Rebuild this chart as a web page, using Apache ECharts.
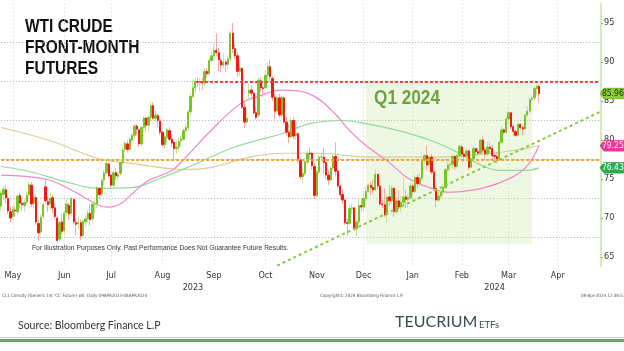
<!DOCTYPE html>
<html>
<head>
<meta charset="utf-8">
<script src="https://cdn.jsdelivr.net/npm/echarts@6/dist/echarts.min.js"></script>
<style>
html, body { margin: 0; padding: 0; background: #fff; }
#chart { width: 624px; height: 351px; }
</style>
</head>
<body>
<div id="chart"></div>
<script>
// daily candles: date, open, close, low, high
const candles = [
  ['2023-05-08', 71.5, 73.2, 71.0, 73.5], ['2023-05-09', 73.0, 73.7, 72.3, 74.0], ['2023-05-10', 73.6, 72.6, 71.9, 74.2],
  ['2023-05-11', 72.5, 70.9, 70.5, 72.9], ['2023-05-12', 70.8, 70.0, 69.4, 71.4], ['2023-05-15', 70.2, 71.1, 69.7, 71.6],
  ['2023-05-16', 71.0, 70.9, 70.2, 71.6], ['2023-05-17', 70.8, 72.8, 70.4, 73.0], ['2023-05-18', 72.9, 71.9, 71.2, 73.3],
  ['2023-05-19', 71.9, 71.7, 70.9, 72.6], ['2023-05-22', 71.6, 72.0, 70.8, 72.5], ['2023-05-23', 72.0, 72.9, 71.7, 73.4],
  ['2023-05-24', 73.0, 74.3, 72.7, 74.7], ['2023-05-25', 74.2, 71.8, 71.4, 74.6], ['2023-05-26', 71.9, 72.7, 71.3, 73.1],
  ['2023-05-30', 72.6, 69.5, 69.1, 73.0], ['2023-05-31', 69.3, 68.1, 67.0, 69.7],
  ['2023-06-01', 68.2, 70.1, 67.9, 70.4], ['2023-06-02', 70.2, 71.7, 69.9, 72.0], ['2023-06-05', 74.0, 72.2, 71.8, 75.1],
  ['2023-06-06', 72.1, 71.7, 70.8, 72.7], ['2023-06-07', 71.8, 72.5, 71.0, 73.3], ['2023-06-08', 72.6, 71.3, 70.6, 73.0],
  ['2023-06-09', 71.3, 70.2, 69.9, 71.9], ['2023-06-12', 70.0, 67.1, 66.8, 70.3], ['2023-06-13', 67.3, 69.4, 67.1, 69.7],
  ['2023-06-14', 69.5, 68.3, 67.9, 70.5], ['2023-06-15', 68.4, 70.6, 67.9, 71.0], ['2023-06-16', 70.7, 71.8, 70.2, 72.4],
  ['2023-06-20', 71.6, 70.5, 69.7, 72.0], ['2023-06-21', 70.6, 72.5, 70.2, 72.7], ['2023-06-22', 72.4, 69.5, 69.2, 72.6],
  ['2023-06-23', 69.4, 69.2, 67.8, 70.0], ['2023-06-26', 69.3, 69.4, 68.6, 70.2], ['2023-06-27', 69.4, 67.7, 67.2, 69.8],
  ['2023-06-28', 67.8, 69.6, 67.6, 69.8], ['2023-06-29', 69.5, 69.9, 68.8, 70.4], ['2023-06-30', 69.9, 70.6, 69.4, 71.0],
  ['2023-07-03', 70.6, 69.8, 69.0, 71.8], ['2023-07-05', 69.9, 71.8, 69.6, 72.0], ['2023-07-06', 71.8, 71.8, 70.6, 72.3],
  ['2023-07-07', 71.8, 73.9, 71.3, 74.0], ['2023-07-10', 73.8, 73.0, 72.4, 74.0], ['2023-07-11', 73.1, 74.8, 72.8, 75.2],
  ['2023-07-12', 74.9, 75.8, 74.2, 76.2], ['2023-07-13', 75.8, 77.0, 75.6, 77.3], ['2023-07-14', 76.9, 75.4, 75.2, 77.1],
  ['2023-07-17', 75.5, 74.2, 73.9, 75.7], ['2023-07-18', 74.2, 75.8, 73.8, 76.0], ['2023-07-19', 75.8, 75.4, 74.9, 76.4],
  ['2023-07-20', 75.3, 75.6, 74.8, 76.0], ['2023-07-21', 75.7, 77.1, 75.4, 77.4], ['2023-07-24', 77.1, 78.7, 76.8, 79.0],
  ['2023-07-25', 78.8, 79.6, 78.4, 79.9], ['2023-07-26', 79.5, 78.8, 78.4, 80.0], ['2023-07-27', 78.8, 80.1, 78.5, 80.4],
  ['2023-07-28', 80.0, 80.6, 79.6, 80.9], ['2023-07-31', 80.6, 81.8, 80.2, 82.0],
  ['2023-08-01', 81.8, 81.4, 80.6, 82.0], ['2023-08-02', 81.3, 79.5, 79.1, 81.4], ['2023-08-03', 79.5, 81.6, 79.3, 81.8],
  ['2023-08-04', 81.6, 82.8, 81.5, 83.0], ['2023-08-07', 82.8, 81.9, 81.2, 83.0], ['2023-08-08', 81.9, 82.9, 81.0, 83.1],
  ['2023-08-09', 82.9, 84.4, 82.3, 84.9], ['2023-08-10', 84.4, 82.8, 82.6, 84.8], ['2023-08-11', 82.8, 83.2, 82.3, 83.7],
  ['2023-08-14', 83.1, 82.5, 81.6, 83.4], ['2023-08-15', 82.4, 81.0, 80.6, 82.6], ['2023-08-16', 81.0, 79.4, 79.2, 81.2],
  ['2023-08-17', 79.4, 80.4, 79.0, 80.8], ['2023-08-18', 80.3, 81.3, 79.6, 81.6], ['2023-08-21', 81.2, 80.1, 79.8, 81.6],
  ['2023-08-22', 80.1, 79.6, 79.1, 80.8], ['2023-08-23', 79.7, 78.9, 77.6, 79.9], ['2023-08-24', 78.9, 79.1, 78.2, 79.9],
  ['2023-08-25', 79.1, 79.8, 78.5, 80.3], ['2023-08-28', 79.9, 80.1, 79.2, 80.5], ['2023-08-29', 80.1, 81.2, 79.9, 81.5],
  ['2023-08-30', 81.2, 81.6, 81.0, 82.1], ['2023-08-31', 81.6, 83.6, 81.2, 83.9],
  ['2023-09-01', 83.6, 85.6, 83.2, 86.0], ['2023-09-05', 85.6, 86.7, 85.4, 87.8], ['2023-09-06', 86.7, 87.5, 86.0, 88.0],
  ['2023-09-07', 87.5, 87.4, 86.8, 88.0], ['2023-09-08', 87.4, 87.5, 86.3, 87.9], ['2023-09-11', 87.5, 87.3, 86.4, 88.0],
  ['2023-09-12', 87.3, 88.8, 86.9, 89.2], ['2023-09-13', 88.8, 88.5, 88.0, 89.2], ['2023-09-14', 88.5, 90.2, 88.3, 90.5],
  ['2023-09-15', 90.2, 90.8, 89.9, 91.3], ['2023-09-18', 90.8, 91.5, 90.2, 92.4], ['2023-09-19', 91.5, 91.2, 90.7, 93.7],
  ['2023-09-20', 91.2, 90.3, 88.8, 91.8], ['2023-09-21', 90.2, 89.6, 88.7, 90.5], ['2023-09-22', 89.6, 90.0, 89.2, 91.1],
  ['2023-09-25', 90.0, 89.7, 88.7, 90.3], ['2023-09-26', 89.7, 90.4, 89.0, 90.9], ['2023-09-27', 90.4, 93.7, 90.1, 94.0],
  ['2023-09-28', 93.7, 91.7, 91.1, 95.0], ['2023-09-29', 91.7, 90.8, 90.4, 92.3],
  ['2023-10-02', 90.8, 88.8, 88.1, 91.3], ['2023-10-03', 88.8, 89.2, 88.2, 89.8], ['2023-10-04', 89.2, 84.2, 84.0, 89.3],
  ['2023-10-05', 84.2, 82.3, 81.5, 84.9], ['2023-10-06', 82.3, 82.8, 82.0, 84.0], ['2023-10-09', 86.0, 86.4, 85.0, 87.2],
  ['2023-10-10', 86.4, 86.0, 85.2, 87.0], ['2023-10-11', 86.0, 83.5, 83.2, 86.1], ['2023-10-12', 83.5, 82.9, 82.6, 84.2],
  ['2023-10-13', 83.2, 87.7, 83.0, 88.0], ['2023-10-16', 87.6, 86.7, 86.2, 88.0], ['2023-10-17', 86.7, 86.6, 85.5, 87.0],
  ['2023-10-18', 86.7, 88.3, 86.5, 89.0], ['2023-10-19', 88.3, 89.4, 87.8, 90.0], ['2023-10-20', 89.4, 88.1, 87.6, 90.3],
  ['2023-10-23', 87.9, 85.5, 85.0, 88.2], ['2023-10-24', 85.5, 83.7, 82.6, 86.0], ['2023-10-25', 83.7, 85.4, 83.4, 85.8],
  ['2023-10-26', 85.4, 83.2, 82.9, 85.9], ['2023-10-27', 83.2, 85.5, 82.8, 85.7], ['2023-10-30', 85.4, 82.3, 82.0, 85.6],
  ['2023-10-31', 82.3, 81.0, 80.6, 83.0],
  ['2023-11-01', 81.0, 80.4, 79.6, 82.0], ['2023-11-02', 80.4, 82.5, 80.2, 82.9], ['2023-11-03', 82.5, 80.5, 80.1, 83.0],
  ['2023-11-06', 80.6, 80.8, 80.0, 81.9], ['2023-11-07', 80.8, 77.4, 77.0, 81.0], ['2023-11-08', 77.4, 75.3, 75.0, 77.8],
  ['2023-11-09', 75.3, 75.7, 74.6, 76.6], ['2023-11-10', 75.7, 77.2, 75.4, 77.6], ['2023-11-13', 77.2, 78.3, 76.9, 78.6],
  ['2023-11-14', 78.3, 78.2, 77.4, 79.0], ['2023-11-15', 78.3, 76.7, 76.2, 78.5], ['2023-11-16', 76.6, 72.9, 72.4, 77.0],
  ['2023-11-17', 72.9, 75.9, 72.7, 76.2], ['2023-11-20', 75.9, 77.8, 75.6, 78.0], ['2023-11-21', 77.8, 77.8, 77.2, 78.4],
  ['2023-11-22', 77.8, 77.1, 75.7, 79.0], ['2023-11-24', 77.1, 75.5, 75.0, 77.2], ['2023-11-27', 75.5, 74.9, 74.2, 76.2],
  ['2023-11-28', 74.9, 76.4, 74.6, 76.6], ['2023-11-29', 76.4, 77.9, 76.1, 78.3], ['2023-11-30', 77.9, 76.0, 75.3, 79.7],
  ['2023-12-01', 76.0, 74.1, 73.8, 76.2], ['2023-12-04', 74.1, 73.0, 72.6, 74.3], ['2023-12-05', 73.0, 72.3, 71.8, 73.7],
  ['2023-12-06', 72.3, 69.4, 69.1, 72.5], ['2023-12-07', 69.4, 69.3, 67.7, 69.9], ['2023-12-08', 69.3, 71.2, 69.1, 71.7],
  ['2023-12-11', 71.2, 71.3, 70.5, 71.9], ['2023-12-12', 71.3, 68.6, 68.3, 71.4], ['2023-12-13', 68.6, 69.5, 67.7, 69.8],
  ['2023-12-14', 69.5, 71.6, 69.2, 72.5], ['2023-12-15', 71.6, 71.4, 70.9, 72.5], ['2023-12-18', 71.4, 72.5, 70.9, 73.5],
  ['2023-12-19', 72.5, 73.4, 72.1, 74.0], ['2023-12-20', 73.4, 74.2, 73.2, 74.4], ['2023-12-21', 74.2, 73.9, 72.9, 74.6],
  ['2023-12-22', 73.9, 73.6, 73.2, 74.9], ['2023-12-26', 73.6, 75.6, 73.5, 76.2], ['2023-12-27', 75.6, 74.1, 73.6, 75.7],
  ['2023-12-28', 74.1, 71.8, 71.6, 74.2], ['2023-12-29', 71.8, 71.7, 71.3, 72.3],
  ['2024-01-02', 71.7, 70.4, 70.1, 73.8], ['2024-01-03', 70.4, 72.7, 69.3, 73.0], ['2024-01-04', 72.7, 72.2, 71.6, 74.2],
  ['2024-01-05', 72.2, 73.8, 71.8, 74.2], ['2024-01-08', 73.8, 70.8, 70.1, 74.0], ['2024-01-09', 70.8, 72.2, 70.6, 72.6],
  ['2024-01-10', 72.2, 71.4, 71.1, 73.5], ['2024-01-11', 71.4, 72.0, 70.7, 72.9], ['2024-01-12', 72.0, 72.7, 71.7, 75.2],
  ['2024-01-16', 72.7, 72.4, 71.3, 73.6], ['2024-01-17', 72.4, 72.6, 71.3, 73.0], ['2024-01-18', 72.6, 74.1, 72.4, 74.5],
  ['2024-01-19', 74.1, 73.4, 73.0, 74.5], ['2024-01-22', 73.4, 75.2, 73.2, 75.5], ['2024-01-23', 75.2, 74.4, 73.8, 75.6],
  ['2024-01-24', 74.4, 75.1, 74.0, 75.7], ['2024-01-25', 75.1, 77.4, 74.9, 77.5], ['2024-01-26', 77.4, 78.0, 76.9, 78.2],
  ['2024-01-29', 78.0, 76.8, 76.2, 79.3], ['2024-01-30', 76.8, 77.8, 76.5, 78.0], ['2024-01-31', 77.8, 75.9, 75.6, 78.2],
  ['2024-02-01', 75.9, 73.8, 73.5, 76.2], ['2024-02-02', 73.8, 72.3, 71.4, 74.1], ['2024-02-05', 72.3, 72.8, 72.0, 73.3],
  ['2024-02-06', 72.8, 73.3, 72.4, 73.6], ['2024-02-07', 73.3, 73.9, 72.9, 74.3], ['2024-02-08', 73.9, 76.2, 73.7, 76.4],
  ['2024-02-09', 76.2, 76.8, 75.8, 77.2], ['2024-02-12', 76.8, 76.9, 75.9, 77.4], ['2024-02-13', 76.9, 77.9, 76.3, 78.1],
  ['2024-02-14', 77.9, 76.6, 76.2, 78.0], ['2024-02-15', 76.6, 78.0, 76.3, 78.2], ['2024-02-16', 78.0, 79.2, 77.6, 79.4],
  ['2024-02-20', 79.1, 78.2, 77.7, 79.4], ['2024-02-21', 78.2, 77.9, 77.2, 78.5], ['2024-02-22', 77.9, 78.6, 77.5, 79.0],
  ['2024-02-23', 78.6, 76.5, 76.1, 78.8], ['2024-02-26', 76.5, 77.6, 76.3, 77.9], ['2024-02-27', 77.6, 78.9, 77.4, 79.2],
  ['2024-02-28', 78.9, 78.5, 78.0, 79.0], ['2024-02-29', 78.5, 78.3, 77.9, 79.0],
  ['2024-03-01', 78.3, 80.0, 78.2, 80.2], ['2024-03-04', 80.0, 78.7, 78.4, 80.6], ['2024-03-05', 78.7, 78.2, 77.6, 79.1],
  ['2024-03-06', 78.2, 79.1, 78.0, 79.7], ['2024-03-07', 79.1, 78.9, 78.2, 79.7], ['2024-03-08', 78.9, 78.0, 77.5, 79.4],
  ['2024-03-11', 78.0, 77.9, 77.2, 78.5], ['2024-03-12', 77.9, 77.6, 77.0, 78.5], ['2024-03-13', 77.6, 79.7, 77.4, 80.0],
  ['2024-03-14', 79.7, 81.3, 79.5, 81.7], ['2024-03-15', 81.3, 81.0, 80.7, 81.5], ['2024-03-18', 81.0, 82.7, 80.8, 83.0],
  ['2024-03-19', 82.7, 83.5, 82.2, 83.8], ['2024-03-20', 83.5, 81.7, 81.4, 83.6], ['2024-03-21', 81.7, 81.1, 80.6, 82.0],
  ['2024-03-22', 81.1, 80.6, 80.4, 81.4], ['2024-03-25', 80.6, 82.0, 80.4, 82.2], ['2024-03-26', 82.0, 81.6, 81.3, 82.2],
  ['2024-03-27', 81.6, 81.4, 80.6, 81.8], ['2024-03-28', 81.4, 83.2, 81.2, 83.3],
  ['2024-04-01', 83.2, 83.7, 82.9, 84.4], ['2024-04-02', 83.7, 85.2, 83.3, 85.5], ['2024-04-03', 85.2, 85.4, 84.7, 85.8],
  ['2024-04-04', 85.4, 86.6, 85.1, 87.0], ['2024-04-05', 86.6, 86.9, 85.8, 87.6], ['2024-04-08', 86.9, 85.96, 84.8, 87.1]
];

// empty trading days to the right of the last candle
const padDates = [
  '2024-04-09', '2024-04-10', '2024-04-11', '2024-04-12', '2024-04-15', '2024-04-16', '2024-04-17', '2024-04-18',
  '2024-04-19', '2024-04-22', '2024-04-23', '2024-04-24', '2024-04-25', '2024-04-26', '2024-04-29', '2024-04-30',
  '2024-05-01', '2024-05-02', '2024-05-03', '2024-05-06', '2024-05-07', '2024-05-08', '2024-05-09', '2024-05-10',
  '2024-05-13', '2024-05-14'
];

// month / year tick labels (Bloomberg puts them mid-month)
const monthTicks = {
  '2023-05-15': 'May', '2023-06-15': 'Jun', '2023-07-17': 'Jul', '2023-08-16': 'Aug',
  '2023-09-18': 'Sep', '2023-10-18': 'Oct', '2023-11-17': 'Nov', '2023-12-18': 'Dec',
  '2024-01-19': 'Jan', '2024-02-20': 'Feb', '2024-03-19': 'Mar', '2024-04-18': 'Apr'
};
const yearTicks = { '2023-09-05': '2023', '2024-03-11': '2024' };

const priceLabels = [65, 70, 75, 80, 85, 90, 95];
const gridLevels = [67.5, 72.5, 77.5, 82.5, 87.5, 92.5];

// moving averages
const ma50 = [
  ['2023-05-08', 75.5], ['2023-06-05', 75.0], ['2023-06-16', 73.9], ['2023-07-10', 71.6], ['2023-07-14', 71.4],
  ['2023-08-08', 74.8], ['2023-08-22', 76.1], ['2023-08-30', 77.8], ['2023-09-14', 81.0], ['2023-10-03', 84.6],
  ['2023-10-13', 85.6], ['2023-10-27', 86.4], ['2023-11-07', 86.3], ['2023-11-17', 85.4], ['2023-11-30', 83.3],
  ['2023-12-08', 81.2], ['2023-12-19', 79.3], ['2024-01-04', 77.1], ['2024-01-17', 75.1], ['2024-01-31', 73.8],
  ['2024-02-12', 73.3], ['2024-02-27', 73.6], ['2024-03-13', 74.5], ['2024-03-28', 76.4], ['2024-04-08', 79.25]
];
const ma100 = [
  ['2023-05-08', 76.6], ['2023-05-25', 75.9], ['2023-06-16', 74.6], ['2023-07-10', 73.8], ['2023-07-28', 73.9],
  ['2023-08-15', 75.1], ['2023-08-30', 76.4], ['2023-09-28', 79.0], ['2023-10-13', 80.0], ['2023-10-27', 80.8],
  ['2023-11-14', 82.1], ['2023-12-05', 82.5], ['2023-12-19', 82.1], ['2024-01-10', 81.2], ['2024-01-31', 79.9],
  ['2024-02-16', 78.3], ['2024-02-28', 77.1], ['2024-03-13', 76.1], ['2024-03-28', 76.1], ['2024-04-08', 76.43]
];
const ma200 = [
  ['2023-05-08', 81.6], ['2023-06-07', 79.9], ['2023-07-10', 77.6], ['2023-07-28', 77.0], ['2023-08-30', 76.2],
  ['2023-09-15', 76.5], ['2023-10-09', 77.8], ['2023-10-27', 78.3], ['2023-11-20', 78.3], ['2023-12-19', 77.8],
  ['2024-01-31', 77.8], ['2024-02-22', 78.0], ['2024-03-13', 78.4], ['2024-03-28', 78.9], ['2024-04-08', 79.3]
];

// drawn annotations
const resistance = 87.5;
const resistanceStart = '2023-09-08';
const support = 77.5;
const trendLine = [['2023-10-25', 63.9], ['2024-05-14', 83.6]];
const q1Box = [['2023-12-19', 87.5], ['2024-04-03', 66.7]];

const narrow = '"DejaVu Sans Condensed", sans-serif';
const sans = '"Liberation Sans", Arial, sans-serif';

let cats = candles.map(r => r[0]).concat(padDates);
let firstCat = cats[0];
let lastCat = cats[cats.length - 1];
let wicks = candles.map(r => [r[1], r[2], r[3], r[4]]);
let bodies = candles.map(r => [r[1], r[2], Math.min(r[1], r[2]), Math.max(r[1], r[2])]);
let lastClose = candles[candles.length - 1][2];

// price tag on the right axis
function tag(value, color, textColor) {
  return {
    silent: true,
    symbol: 'path://M0,5 L5,0 L30,0 L30,10 L5,10 Z',
    symbolSize: [24, 11],
    symbolOffset: [12, 0],
    itemStyle: { color: color, borderColor: 'rgba(0,0,0,0.3)', borderWidth: 0.5 },
    label: { show: true, position: 'inside', offset: [1, 0], color: textColor, fontSize: 8.5, fontFamily: narrow },
    data: [{ coord: [lastCat, value], value: value.toFixed(2) }]
  };
}

// horizontal grid, half-way between the price labels (plain line series)
let gridSeries = gridLevels.map(v => ({
  type: 'line',
  silent: true,
  z: 0,
  data: [[firstCat, v], [lastCat, v]],
  showSymbol: false,
  lineStyle: { color: '#b0b0b0', type: [1, 2], width: 1 }
}));

let chart = echarts.init(document.getElementById('chart'));
chart.setOption({
  animation: false,
  backgroundColor: '#fff',
  // 5 price units = 39px so the dotted grid lands on whole pixels
  grid: { left: 0, right: 23, top: 3.5, height: 263.25, containLabel: false, outerBoundsMode: 'none' },
  xAxis: [
    {
      type: 'category',
      data: cats,
      boundaryGap: true,
      axisLine: { show: false },
      axisTick: { show: false },
      axisLabel: {
        interval: (i, v) => v in monthTicks,
        formatter: v => monthTicks[v] || '',
        color: '#333', fontSize: 9, fontFamily: narrow, margin: 4
      },
      splitLine: {
        show: true,
        alignWithLabel: true,
        interval: (i, v) => v in monthTicks,
        lineStyle: { color: '#cfcfcf', type: [1, 3], width: 1 }
      }
    },
    {
      type: 'category',
      data: cats,
      position: 'bottom',
      offset: 12,
      axisLine: { show: false },
      axisTick: { show: false },
      splitLine: { show: false },
      axisLabel: {
        interval: (i, v) => v in yearTicks,
        formatter: v => yearTicks[v] || '',
        color: '#333', fontSize: 9, fontFamily: narrow, margin: 4
      }
    }
  ],
  yAxis: {
    type: 'value',
    position: 'right',
    min: 63.75,
    max: 97.5,
    axisLine: { show: true, lineStyle: { color: '#c4e69e', width: 1.5 } },
    axisTick: { show: true, length: 2, customValues: priceLabels, lineStyle: { color: '#7cc242' } },
    axisLabel: { customValues: priceLabels, color: '#333', fontSize: 9, fontFamily: narrow, margin: 3 },
    splitLine: { show: false }
  },
  series: gridSeries.concat([
    {
      name: '200d',
      type: 'line',
      z: 1,
      data: ma200,
      smooth: 0.4,
      showSymbol: false,
      lineStyle: { color: '#d9cd92', width: 1.2 },
      markArea: {
        silent: true,
        itemStyle: { color: 'rgba(190, 228, 150, 0.28)' },
        data: [[{ coord: q1Box[0] }, { coord: q1Box[1] }]]
      }
    },
    {
      name: '100d',
      type: 'line',
      z: 2,
      data: ma100,
      smooth: 0.4,
      showSymbol: false,
      lineStyle: { color: '#93d99c', width: 1.2 },
      markPoint: tag(ma100[ma100.length - 1][1], '#22b14c', '#ffffff')
    },
    {
      name: '50d',
      type: 'line',
      z: 2,
      data: ma50,
      smooth: 0.4,
      showSymbol: false,
      lineStyle: { color: '#f085cb', width: 1.2 },
      markPoint: tag(ma50[ma50.length - 1][1], '#e8399e', '#ffe8f5')
    },
    {
      name: 'wicks',
      type: 'candlestick',
      z: 3,
      data: wicks,
      barWidth: 1,
      itemStyle: { color: '#c4e59f', color0: '#f5aaaa', borderColor: '#c4e59f', borderColor0: '#f5aaaa', borderWidth: 1 }
    },
    {
      name: 'CL1',
      type: 'candlestick',
      z: 4,
      data: bodies,
      barWidth: 1.8,
      itemStyle: { color: '#78c528', color0: '#ff1414', borderColor: '#78c528', borderColor0: '#ff1414', borderWidth: 1 },
      markPoint: tag(lastClose, '#8fcb3c', '#16320a'),
      markLine: {
        silent: true,
        symbol: ['none', 'none'],
        label: { show: false },
        data: [
          [{ coord: [resistanceStart, resistance], lineStyle: { color: '#ff3b3b', type: [3, 2], width: 2 } }, { coord: [lastCat, resistance] }],
          [{ coord: [firstCat, support], lineStyle: { color: '#f4a22c', type: [3, 2], width: 2 } }, { coord: [lastCat, support] }],
          [{ coord: trendLine[0], lineStyle: { color: '#86cc3a', type: [3, 3], width: 2 } }, { coord: trendLine[1] }]
        ]
      }
    }
  ]),
  graphic: [
    { type: 'text', left: 25, top: 17, scaleX: 0.86, style: { text: 'WTI CRUDE\nFRONT-MONTH\nFUTURES', fill: '#111', fontSize: 18, fontWeight: 'bold', fontFamily: sans, lineHeight: 21 } },
    { type: 'text', left: 374, top: 88, scaleX: 0.86, style: { text: 'Q1 2024', fill: '#4f8a1e', fontSize: 20, fontWeight: 'bold', fontFamily: sans } },
    { type: 'text', left: 32, top: 244, scaleX: 0.84, style: { text: 'For Illustration Purposes Only. Past Performance Does Not Guarantee Future Results.', fill: '#333', fontSize: 8, fontFamily: sans } },
    { type: 'text', left: 2, top: 293, style: { text: 'CL1 Comdty (Generic 1st \'CL\' Future) wti  Daily 09APR2023-08APR2024', fill: '#555', fontSize: 4.5, fontFamily: narrow } },
    { type: 'text', left: 320, top: 293, style: { text: 'Copyright\u00a9 2024 Bloomberg Finance L.P.', fill: '#555', fontSize: 4.5, fontFamily: narrow } },
    { type: 'text', left: 581, top: 293, style: { text: '08-Apr-2024 12:38:53', fill: '#555', fontSize: 4.5, fontFamily: narrow } },
    { type: 'text', left: 18, top: 320, style: { text: 'Source: Bloomberg Finance L.P', fill: '#333', fontSize: 10.5, fontFamily: 'Lato, sans-serif' } },
    { type: 'text', left: 395, top: 314, style: { text: 'TEUCRIUM', fill: '#3d4b4e', fontSize: 16, fontFamily: 'Lato, sans-serif' } },
    { type: 'text', left: 479, top: 320, style: { text: 'ETFs', fill: '#3d4b4e', fontSize: 9.5, fontFamily: 'Lato, sans-serif' } },
    { type: 'rect', left: 0, top: 337, shape: { width: 624, height: 1 }, style: { fill: '#cfcfcf' } },
    { type: 'rect', left: 0, top: 339, shape: { width: 624, height: 3 }, style: { fill: '#6aab3d' } }
  ]
});
</script>
</body>
</html>
